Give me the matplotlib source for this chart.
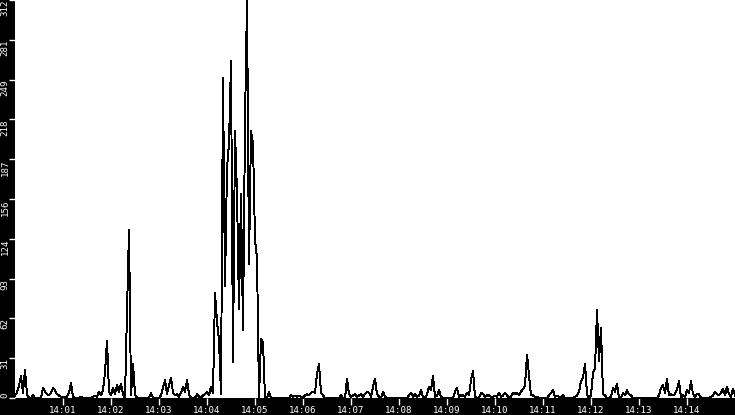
import numpy as np
import pandas as pd
import matplotlib
matplotlib.use("Agg")
import matplotlib.pyplot as plt

# samples every 2.5 s, one list per minute starting 14:00
m00 = [2, 4, 10, 17, 4, 22, 3, 0, 0, 2, 0, 0, 0, 0, 8, 5, 3, 2, 4, 8, 6, 3, 2, 1]
m01 = [1, 0, 1, 4, 12, 1, 0, 0, 0, 1, 0, 0, 0, 0, 0, 1, 2, 1, 5, 2, 6, 20, 45, 5]
m02 = [2, 8, 3, 10, 5, 11, 3, 0, 68, 132, 2, 27, 3, 0, 0, 0, 0, 0, 0, 0, 4, 0, 0, 0]
m03 = [0, 2, 8, 14, 3, 10, 16, 4, 2, 3, 1, 4, 9, 5, 14, 3, 0, 0, 0, 3, 1, 0, 2, 3]
m04 = [5, 2, 9, 4, 82, 60, 45, 3, 251, 88, 180, 200, 264, 28, 209, 160, 70, 160, 53, 216, 312, 105, 209, 200]
m05 = [124, 110, 0, 46, 44, 0, 0, 5, 0, 0, 0, 0, 0, 0, 0, 0, 0, 0, 2, 1, 2, 1, 2, 1]
m06 = [0, 2, 3, 2, 4, 5, 4, 19, 27, 4, 2, 0, 0, 0, 0, 0, 0, 0, 0, 2, 0, 0, 15, 3]
m07 = [1, 2, 3, 1, 2, 3, 1, 3, 5, 4, 1, 9, 15, 3, 1, 0, 5, 1, 0, 0, 0, 0, 0, 0]
m08 = [0, 0, 0, 0, 0, 2, 4, 1, 3, 1, 2, 6, 1, 0, 3, 9, 6, 17, 1, 2, 6, 1, 0, 0]
m09 = [0, 0, 0, 0, 5, 8, 1, 2, 2, 1, 4, 2, 14, 21, 1, 0, 0, 4, 3, 1, 2, 2, 1, 1]
m10 = [2, 1, 4, 1, 2, 4, 2, 0, 1, 4, 3, 4, 2, 5, 7, 10, 34, 18, 2, 2, 1, 1, 0, 0]
m11 = [0, 0, 0, 2, 4, 6, 1, 2, 1, 0, 2, 0, 0, 0, 0, 0, 1, 2, 5, 13, 16, 27, 3, 0]
m12 = [2, 20, 23, 69, 29, 55, 3, 2, 0, 0, 1, 8, 5, 11, 0, 0, 4, 2, 6, 3, 2, 0, 0, 0]
m13 = [0, 0, 0, 0, 0, 0, 0, 0, 0, 0, 2, 8, 10, 4, 15, 2, 3, 2, 3, 7, 13, 0, 2, 1]
m14 = [6, 4, 13, 3, 1, 3, 3, 0, 0, 0, 0, 0, 1, 2, 5, 3, 2, 4, 7, 2, 9, 3, 1, 7]
last = [2]

y_ticks  = [0, 31.2, 62.4, 93.6, 124.8, 156, 187.2, 218.4, 249.6, 280.8, 312]
y_labels = ["0", "31", "62", "93", "124", "156", "187", "218", "249", "281", "312"]
x_labels = ["14:01", "14:02", "14:03", "14:04", "14:05", "14:06", "14:07",
            "14:08", "14:09", "14:10", "14:11", "14:12", "14:13", "14:14"]

counts = np.array(m00 + m01 + m02 + m03 + m04 + m05 + m06 + m07 + m08 + m09
                  + m10 + m11 + m12 + m13 + m14 + last)
start = pd.Timestamp("2024-01-01 14:00:00")
times = pd.date_range(start, periods=len(counts), freq="2500ms")

fig = plt.figure(figsize=(7.35, 4.15), dpi=100, facecolor="black")
ax = fig.add_axes([15/735, 17/415, 720/735, 398/415])
ax.set_facecolor("white")

ax.plot(times, counts, color="black", linewidth=0.7, antialiased=False, clip_on=False)

ax.set_xlim(start, start + pd.Timedelta(minutes=15))
ax.set_ylim(0, 312)

ax.set_xticks([start + pd.Timedelta(minutes=m) for m in range(1, 15)])
ax.set_xticklabels(x_labels)
ax.set_yticks(y_ticks)
ax.set_yticklabels(y_labels)

ax.tick_params(axis="x", colors="white", direction="out", length=5, width=1,
               pad=0.5, labelsize=6.6)
ax.tick_params(axis="y", colors="white", direction="out", length=4, width=1,
               pad=0, labelsize=6.6)

for lbl in ax.get_xticklabels() + ax.get_yticklabels():
    lbl.set_family("DejaVu Sans Mono")

for lbl in ax.get_yticklabels():
    lbl.set_rotation(90)
    lbl.set_ha("right")
    lbl.set_va("top")
ax.get_yticklabels()[0].set_va("bottom")

for s in ax.spines.values():
    s.set_visible(False)

fig.savefig("out.png", dpi=100, facecolor="black")
